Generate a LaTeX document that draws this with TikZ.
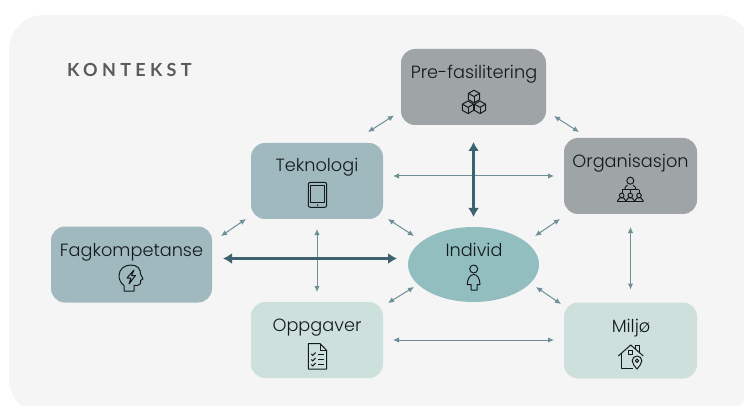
\documentclass[tikz,border=0pt]{standalone}
\usepackage{fontspec}
\setmainfont{Poppins Light}
\newfontfamily\headfont[LetterSpace=24]{Lato Bold}
\usetikzlibrary{arrows.meta,shapes.geometric}

\definecolor{panelgray}{HTML}{F5F5F5}
\definecolor{stonegray}{HTML}{9FA4A7}
\definecolor{dustblue}{HTML}{A0B9BF}
\definecolor{palegreen}{HTML}{CDE0DC}
\definecolor{tealfill}{HTML}{92BEC0}
\definecolor{thinteal}{HTML}{6F8F96}
\definecolor{deepteal}{HTML}{3C6270}
\definecolor{inkblack}{HTML}{141A1C}
\definecolor{headgray}{HTML}{5A5A5A}

\tikzset{
  box/.style={rectangle, rounded corners=14pt, inner sep=0pt, outer sep=0pt},
  bloblabel/.style={anchor=base, inner sep=0pt, font=\fontsize{17.7}{20}\selectfont, text=inkblack},
  thinlink/.style={draw=thinteal, line width=1pt, {Latex[length=6pt,width=5.5pt]}-{Latex[length=6pt,width=5.5pt]}},
  thicklink/.style={draw=deepteal, line width=2.2pt, {Latex[length=9pt,width=11pt]}-{Latex[length=9pt,width=11pt]}},
  iconline/.style={draw=inkblack, line width=1pt, line join=round}
}

\begin{document}
\begin{tikzpicture}[x=1pt, y=-1pt]
\useasboundingbox (0, 0) rectangle (744, 406);
\clip (0, 0) rectangle (744, 406);
\fill[panelgray, rounded corners=35pt] (9, 15) rectangle (752, 414);

\node[anchor=base west, inner sep=0pt, font=\headfont\fontsize{18}{20}\selectfont, text=headgray] (kontekst) at (67, 76.5){KONTEKST};

\node[box, fill=stonegray, minimum width=145pt, minimum height=76pt] (pre) at (473.5, 87){};
\node[box, fill=stonegray, minimum width=133pt, minimum height=76pt] (org) at (630.5, 176){};
\node[box, fill=dustblue, minimum width=132pt, minimum height=76pt] (tek) at (317, 181){};
\node[box, fill=dustblue, minimum width=161pt, minimum height=76pt] (fag) at (131.5, 264.5){};
\node[box, fill=palegreen, minimum width=132pt, minimum height=76pt] (opp) at (317, 340){};
\node[box, fill=palegreen, minimum width=133pt, minimum height=76pt] (mil) at (630.5, 340.5){};
\node[ellipse, fill=tealfill, inner sep=0pt, outer sep=0pt, minimum width=131pt, minimum height=75pt] (ind) at (473.5, 264.5){};

\node[bloblabel] (prelabel) at (474, 79){Pre-fasilitering};
\node[bloblabel] (orglabel) at (630.5, 168){Organisasjon};
\node[bloblabel] (teklabel) at (317, 172){Teknologi};
\node[bloblabel] (faglabel) at (131.5, 256){Fagkompetanse};
\node[bloblabel] (opplabel) at (317, 331){Oppgaver};
\node[bloblabel] (millabel) at (631, 332){Miljø};
\node[bloblabel] (indlabel) at (474, 256){Individ};

% thin links
\draw[thinlink, shorten <=10pt, shorten >=10pt] (tek.east |- org) -- (org.west);
\draw[thinlink, shorten <=10pt, shorten >=10pt] (opp.east) -- (mil.west |- opp);
\draw[thinlink, shorten <=10pt, shorten >=10pt] (tek.south) -- (opp.north);
\draw[thinlink, shorten <=13pt, shorten >=13pt] (org.south) -- (mil.north);
\draw[thinlink] ([shift={(-15, -11)}]tek.north east) -- ([shift={(-7, -9.5)}]pre.south west);
\draw[thinlink] ([shift={(8, -9)}]pre.south east) -- ([shift={(15, -6)}]org.north west);
\draw[thinlink] ([shift={(9, 9.5)}]fag.north east) -- ([shift={(-5, 0)}]tek.south west);
\draw[thinlink] ([shift={(5, 0)}]tek.south east) -- ([shift={(-59.5, -28.5)}]ind.center);
\draw[thinlink] ([shift={(61.5, -28.5)}]ind.center) -- ([shift={(-4, 5)}]org.south west);
\draw[thinlink] ([shift={(5, 1)}]opp.north east) -- ([shift={(-59.5, 22.5)}]ind.center);
\draw[thinlink] ([shift={(62.5, 22.5)}]ind.center) -- ([shift={(-3, 1.5)}]mil.north west);

% thick links
\draw[thicklink, shorten <=17pt, shorten >=10pt] (pre.south) -- (ind.north);
\draw[thicklink, shorten <=11pt, shorten >=11pt] ([yshift=6pt]fag.east) -- ([yshift=6pt]ind.west);

% cubes
\foreach \cx/\cy in {474/96.5, 468/107.3, 480/107.3}{
  \draw[iconline] (\cx, \cy-6.3) -- (\cx+5.6, \cy-3.1) -- (\cx+5.6, \cy+3.1) -- (\cx, \cy+6.3) -- (\cx-5.6, \cy+3.1) -- (\cx-5.6, \cy-3.1) -- cycle;
  \draw[iconline] (\cx-5.6, \cy-3.1) -- (\cx, \cy) -- (\cx+5.6, \cy-3.1);
  \draw[iconline] (\cx, \cy) -- (\cx, \cy+6.3);
}

% hierarchy
\draw[iconline] (630.3, 180.7) circle (3.5);
\draw[iconline] (625, 190) -- (625, 187.5) -- (627.5, 185) (633, 185) -- (635.5, 187.5) -- (635.5, 190);
\draw[iconline] (622, 190) -- (639, 190);
\draw[iconline] (622, 190) -- (622, 193) (630.3, 190) -- (630.3, 193) (639, 190) -- (639, 193);
\foreach \cx in {621.7, 630.3, 639}{
  \draw[iconline] (\cx, 195.5) circle (2.3);
  \draw[iconline] (\cx-4, 202) -- (\cx-4, 200.5) -- (\cx-2, 198) -- (\cx+2, 198) -- (\cx+4, 200.5) -- (\cx+4, 202);
}
\draw[iconline] (618, 202) -- (643, 202);

% tablet
\draw[iconline, rounded corners=2pt] (308.3, 182.3) rectangle (326.7, 207.3);
\draw[iconline] (310.5, 186) rectangle (324.5, 203);
\fill[inkblack] (317.5, 205.2) circle (0.8);

% head
\draw[iconline] (124, 291) -- (124, 285.5) .. controls (120.5, 283) and (119, 279) .. (119, 276) .. controls (119, 269) and (124.5, 265) .. (131, 265) .. controls (137, 265) and (141, 269) .. (140.5, 274) -- (143, 279) -- (140.5, 280.5) -- (140.5, 283.5) .. controls (140, 285.5) and (137, 285.5) .. (134, 285.5) -- (134, 291) -- cycle;
\draw[iconline] (134, 270) -- (127, 278) -- (131, 278) -- (129, 284) -- (135.5, 275.5) -- (131.5, 275.5) -- cycle;

% checklist
\draw[iconline] (320, 343.5) -- (308.3, 343.5) -- (308.3, 369) -- (326.7, 369) -- (326.7, 350.5) -- cycle;
\draw[iconline] (320, 343.5) -- (320, 350.5) -- (326.7, 350.5);
\foreach \ry in {354, 359.5, 364.5}{
  \draw[iconline] (311.3, \ry) -- (312.8, \ry+1.5) -- (315.5, \ry-1.5);
  \draw[iconline] (318, \ry) -- (324, \ry);
}

% person
\draw[iconline] (473.7, 269) circle (4);
\draw[iconline] (471, 290) -- (477, 290) -- (477, 284.5) -- (480, 284.5) .. controls (480, 279) and (477.5, 274.5) .. (473.7, 274.5) .. controls (470, 274.5) and (467.3, 279) .. (467.3, 284.5) -- (471, 284.5) -- cycle;

% house
\draw[iconline] (618.3, 356) -- (630.7, 345) -- (643.3, 356);
\draw[iconline] (635, 348.5) -- (635, 345.5) -- (639.5, 345.5) -- (639.5, 352);
\draw[iconline] (621.7, 352.8) -- (621.7, 368.7) -- (632.7, 368.7);
\draw[iconline] (628.3, 350.3) rectangle (632, 354);
\draw[iconline] (637, 369) .. controls (634.5, 366) and (632.2, 363.5) .. (632.2, 360.7) .. controls (632.2, 358) and (634.5, 356) .. (637, 356) .. controls (639.5, 356) and (641.8, 358) .. (641.8, 360.7) .. controls (641.8, 363.5) and (639.5, 366) .. (637, 369) -- cycle;
\draw[iconline] (637, 360.7) circle (1.7);
\end{tikzpicture}
\end{document}
